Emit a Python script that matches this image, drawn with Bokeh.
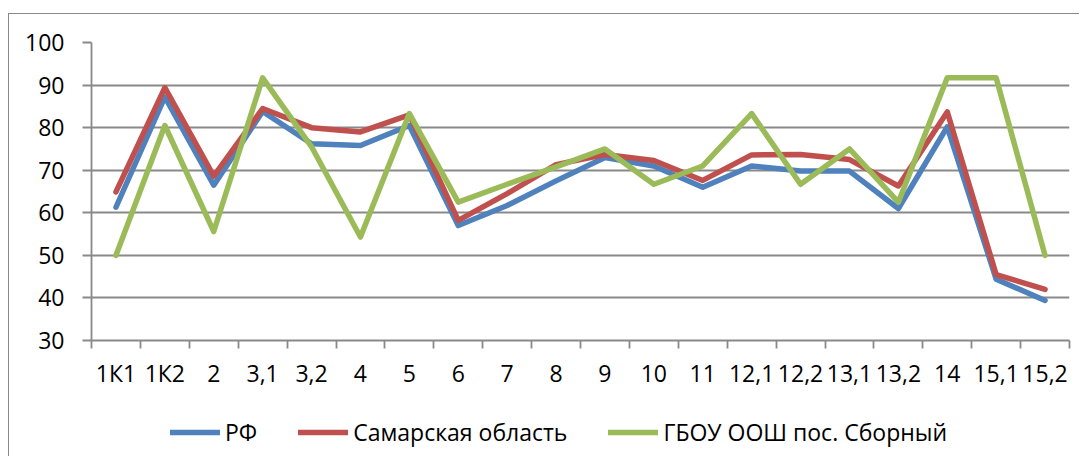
from bokeh.plotting import figure
from bokeh.layouts import column
from bokeh.models import (Range1d, FixedTicker, CustomJSTickFormatter, Legend, LegendItem)
from bokeh.embed import file_html
from bokeh.resources import INLINE

categories = ["1К1", "1К2", "2", "3,1", "3,2", "4", "5", "6", "7", "8", "9", "10",
              "11", "12,1", "12,2", "13,1", "13,2", "14", "15,1", "15,2"]
rf = [61.3, 87.2, 66.5, 83.8, 76.2, 75.8, 80.5, 57.0, 61.7, 67.5, 73.0, 71.0,
      66.0, 71.0, 69.8, 69.8, 61.0, 80.2, 44.4, 39.4]
samara = [64.9, 89.4, 68.6, 84.5, 80.0, 79.0, 83.0, 58.2, 64.5, 71.3, 73.7, 72.3,
          67.6, 73.6, 73.7, 72.5, 66.3, 83.7, 45.5, 42.0]
school = [50.0, 80.5, 55.6, 91.7, 75.5, 54.3, 83.3, 62.5, 66.7, 70.8, 75.0, 66.7,
          71.0, 83.3, 66.7, 75.0, 62.5, 91.7, 91.7, 50.0]
series = [rf, samara, school]
series_names = ["РФ", "Самарская область", "ГБОУ ООШ пос. Сборный"]
colors = ["#4F81BD", "#C0504D", "#9BBB59"]

FONT = "Open Sans"
FSIZE = "23px"
GRID = "#898989"
LW = 5.5

xs = [i + 0.5 for i in range(len(categories))]

p = figure(width=1070, height=386, output_backend="svg", toolbar_location=None,
           x_range=Range1d(0, len(categories)), y_range=Range1d(30, 100),
           min_border_left=82, min_border_right=10, min_border_top=28, min_border_bottom=60)
p.outline_line_color = None
p.background_fill_color = "white"
p.border_fill_color = "white"

p.xgrid.grid_line_color = None
p.ygrid.grid_line_color = GRID
p.ygrid.grid_line_width = 1.8

p.yaxis.ticker = FixedTicker(ticks=list(range(30, 101, 10)))
p.yaxis.axis_line_color = GRID
p.yaxis.axis_line_width = 1.8
p.yaxis.major_tick_line_color = GRID
p.yaxis.major_tick_line_width = 1.8
p.yaxis.major_tick_out = 9
p.yaxis.major_tick_in = 0
p.yaxis.minor_tick_line_color = None
p.yaxis.major_label_standoff = 18
p.yaxis.major_label_text_font = FONT
p.yaxis.major_label_text_font_size = FSIZE
p.yaxis.major_label_text_color = "black"

p.xaxis.ticker = FixedTicker(ticks=xs, minor_ticks=list(range(len(categories) + 1)))
p.xaxis.formatter = CustomJSTickFormatter(args=dict(labels=categories),
                                          code="return labels[Math.floor(tick)];")
p.xaxis.axis_line_color = GRID
p.xaxis.axis_line_width = 1.8
p.xaxis.major_tick_line_color = None
p.xaxis.major_tick_out = 8
p.xaxis.major_tick_in = 0
p.xaxis.minor_tick_line_color = GRID
p.xaxis.minor_tick_line_width = 1.8
p.xaxis.minor_tick_out = 8
p.xaxis.minor_tick_in = 0
p.xaxis.major_label_standoff = 8
p.xaxis.major_label_text_font = FONT
p.xaxis.major_label_text_font_size = FSIZE
p.xaxis.major_label_text_color = "black"

for vals, c in zip(series, colors):
    p.line(xs, vals, line_color=c, line_width=LW, line_join="round", line_cap="round")

# legend strip below the chart (its frame is aligned with the chart's frame)
lg = figure(width=1070, height=56, output_backend="svg", toolbar_location=None,
            x_range=Range1d(0, 1), y_range=Range1d(0, 1),
            x_axis_location=None, y_axis_location=None, min_border=0)
lg.grid.visible = False
lg.outline_line_color = None
lg.background_fill_color = "white"
lg.border_fill_color = "white"

items = []
for name, c in zip(series_names, colors):
    # off-range placeholder renderer, used only for its legend glyph
    r = lg.line(x=[-10, -9], y=[-10, -9], line_color=c, line_width=LW, line_cap="round")
    items.append(LegendItem(label=name, renderers=[r]))

legend = Legend(items=items, orientation="horizontal", location=(79, 8),
                glyph_width=50, glyph_height=20, label_standoff=5, spacing=41,
                label_text_font=FONT, label_text_font_size=FSIZE,
                label_text_color="black", border_line_color=None,
                background_fill_alpha=0, margin=0, padding=2)
lg.add_layout(legend, "center")

layout = column(p, lg, spacing=0,
                styles={"border-left": "1px solid #898989",
                        "border-top": "1px solid #898989",
                        "margin-top": "13px", "margin-left": "8px"})

open("out.html", "w").write(file_html(layout, INLINE))
